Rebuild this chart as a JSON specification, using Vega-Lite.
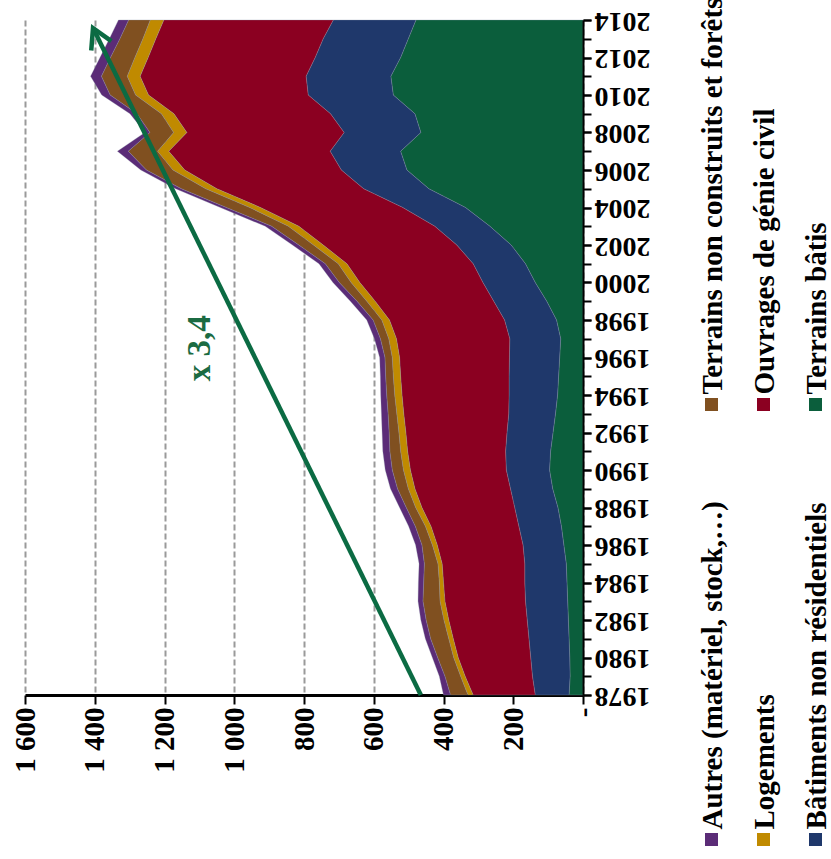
{
  "$schema": "https://vega.github.io/schema/vega-lite/v6.json",
  "width": 558,
  "height": 675,
  "autosize": {"type": "none"},
  "padding": {"left": 25, "top": 20, "right": 248, "bottom": 164},
  "background": "white",
  "config": {"view": {"stroke": null}, "axis": {"labelOverlap": false}},
  "resolve": {"axis": {"y": "independent"}},
  "datasets": {
    "stock": [
      {"annee":1978,"serie":"Terrains bâtis","valeur":40},{"annee":1978,"serie":"Bâtiments non résidentiels","valeur":97},{"annee":1978,"serie":"Ouvrages de génie civil","valeur":178},{"annee":1978,"serie":"Logements","valeur":15},{"annee":1978,"serie":"Terrains non construits et forêts","valeur":50},{"annee":1978,"serie":"Autres (matériel, stock,…)","valeur":20},
      {"annee":1979,"serie":"Terrains bâtis","valeur":37},{"annee":1979,"serie":"Bâtiments non résidentiels","valeur":108},{"annee":1979,"serie":"Ouvrages de génie civil","valeur":193},{"annee":1979,"serie":"Logements","valeur":13},{"annee":1979,"serie":"Terrains non construits et forêts","valeur":45},{"annee":1979,"serie":"Autres (matériel, stock,…)","valeur":16},
      {"annee":1980,"serie":"Terrains bâtis","valeur":38},{"annee":1980,"serie":"Bâtiments non résidentiels","valeur":112},{"annee":1980,"serie":"Ouvrages de génie civil","valeur":208},{"annee":1980,"serie":"Logements","valeur":13},{"annee":1980,"serie":"Terrains non construits et forêts","valeur":46},{"annee":1980,"serie":"Autres (matériel, stock,…)","valeur":15},
      {"annee":1981,"serie":"Terrains bâtis","valeur":40},{"annee":1981,"serie":"Bâtiments non résidentiels","valeur":115},{"annee":1981,"serie":"Ouvrages de génie civil","valeur":217},{"annee":1981,"serie":"Logements","valeur":13},{"annee":1981,"serie":"Terrains non construits et forêts","valeur":52},{"annee":1981,"serie":"Autres (matériel, stock,…)","valeur":15},
      {"annee":1982,"serie":"Terrains bâtis","valeur":42},{"annee":1982,"serie":"Bâtiments non résidentiels","valeur":118},{"annee":1982,"serie":"Ouvrages de génie civil","valeur":225},{"annee":1982,"serie":"Logements","valeur":14},{"annee":1982,"serie":"Terrains non construits et forêts","valeur":51},{"annee":1982,"serie":"Autres (matériel, stock,…)","valeur":15},
      {"annee":1983,"serie":"Terrains bâtis","valeur":44},{"annee":1983,"serie":"Bâtiments non résidentiels","valeur":121},{"annee":1983,"serie":"Ouvrages de génie civil","valeur":231},{"annee":1983,"serie":"Logements","valeur":14},{"annee":1983,"serie":"Terrains non construits et forêts","valeur":49},{"annee":1983,"serie":"Autres (matériel, stock,…)","valeur":14},
      {"annee":1984,"serie":"Terrains bâtis","valeur":46},{"annee":1984,"serie":"Bâtiments non résidentiels","valeur":121},{"annee":1984,"serie":"Ouvrages de génie civil","valeur":233},{"annee":1984,"serie":"Logements","valeur":12},{"annee":1984,"serie":"Terrains non construits et forêts","valeur":45},{"annee":1984,"serie":"Autres (matériel, stock,…)","valeur":15},
      {"annee":1985,"serie":"Terrains bâtis","valeur":48},{"annee":1985,"serie":"Bâtiments non résidentiels","valeur":119},{"annee":1985,"serie":"Ouvrages de génie civil","valeur":237},{"annee":1985,"serie":"Logements","valeur":12},{"annee":1985,"serie":"Terrains non construits et forêts","valeur":39},{"annee":1985,"serie":"Autres (matériel, stock,…)","valeur":15},
      {"annee":1986,"serie":"Terrains bâtis","valeur":55},{"annee":1986,"serie":"Bâtiments non résidentiels","valeur":117},{"annee":1986,"serie":"Ouvrages de génie civil","valeur":246},{"annee":1986,"serie":"Logements","valeur":14},{"annee":1986,"serie":"Terrains non construits et forêts","valeur":30},{"annee":1986,"serie":"Autres (matériel, stock,…)","valeur":18},
      {"annee":1987,"serie":"Terrains bâtis","valeur":62},{"annee":1987,"serie":"Bâtiments non résidentiels","valeur":122},{"annee":1987,"serie":"Ouvrages de génie civil","valeur":252},{"annee":1987,"serie":"Logements","valeur":16},{"annee":1987,"serie":"Terrains non construits et forêts","valeur":29},{"annee":1987,"serie":"Autres (matériel, stock,…)","valeur":19},
      {"annee":1988,"serie":"Terrains bâtis","valeur":72},{"annee":1988,"serie":"Bâtiments non résidentiels","valeur":124},{"annee":1988,"serie":"Ouvrages de génie civil","valeur":266},{"annee":1988,"serie":"Logements","valeur":18},{"annee":1988,"serie":"Terrains non construits et forêts","valeur":27},{"annee":1988,"serie":"Autres (matériel, stock,…)","valeur":19},
      {"annee":1989,"serie":"Terrains bâtis","valeur":87},{"annee":1989,"serie":"Bâtiments non résidentiels","valeur":121},{"annee":1989,"serie":"Ouvrages de génie civil","valeur":274},{"annee":1989,"serie":"Logements","valeur":19},{"annee":1989,"serie":"Terrains non construits et forêts","valeur":31},{"annee":1989,"serie":"Autres (matériel, stock,…)","valeur":20},
      {"annee":1990,"serie":"Terrains bâtis","valeur":96},{"annee":1990,"serie":"Bâtiments non résidentiels","valeur":124},{"annee":1990,"serie":"Ouvrages de génie civil","valeur":275},{"annee":1990,"serie":"Logements","valeur":20},{"annee":1990,"serie":"Terrains non construits et forêts","valeur":32},{"annee":1990,"serie":"Autres (matériel, stock,…)","valeur":20},
      {"annee":1991,"serie":"Terrains bâtis","valeur":93},{"annee":1991,"serie":"Bâtiments non résidentiels","valeur":129},{"annee":1991,"serie":"Ouvrages de génie civil","valeur":281},{"annee":1991,"serie":"Logements","valeur":20},{"annee":1991,"serie":"Terrains non construits et forêts","valeur":31},{"annee":1991,"serie":"Autres (matériel, stock,…)","valeur":20},
      {"annee":1992,"serie":"Terrains bâtis","valeur":86},{"annee":1992,"serie":"Bâtiments non résidentiels","valeur":132},{"annee":1992,"serie":"Ouvrages de génie civil","valeur":290},{"annee":1992,"serie":"Logements","valeur":20},{"annee":1992,"serie":"Terrains non construits et forêts","valeur":28},{"annee":1992,"serie":"Autres (matériel, stock,…)","valeur":20},
      {"annee":1993,"serie":"Terrains bâtis","valeur":79},{"annee":1993,"serie":"Bâtiments non résidentiels","valeur":134},{"annee":1993,"serie":"Ouvrages de génie civil","valeur":301},{"annee":1993,"serie":"Logements","valeur":20},{"annee":1993,"serie":"Terrains non construits et forêts","valeur":25},{"annee":1993,"serie":"Autres (matériel, stock,…)","valeur":19},
      {"annee":1994,"serie":"Terrains bâtis","valeur":73},{"annee":1994,"serie":"Bâtiments non résidentiels","valeur":139},{"annee":1994,"serie":"Ouvrages de génie civil","valeur":307},{"annee":1994,"serie":"Logements","valeur":21},{"annee":1994,"serie":"Terrains non construits et forêts","valeur":23},{"annee":1994,"serie":"Autres (matériel, stock,…)","valeur":17},
      {"annee":1995,"serie":"Terrains bâtis","valeur":70},{"annee":1995,"serie":"Bâtiments non résidentiels","valeur":142},{"annee":1995,"serie":"Ouvrages de génie civil","valeur":311},{"annee":1995,"serie":"Logements","valeur":21},{"annee":1995,"serie":"Terrains non construits et forêts","valeur":22},{"annee":1995,"serie":"Autres (matériel, stock,…)","valeur":15},
      {"annee":1996,"serie":"Terrains bâtis","valeur":67},{"annee":1996,"serie":"Bâtiments non résidentiels","valeur":144},{"annee":1996,"serie":"Ouvrages de génie civil","valeur":315},{"annee":1996,"serie":"Logements","valeur":21},{"annee":1996,"serie":"Terrains non construits et forêts","valeur":21},{"annee":1996,"serie":"Autres (matériel, stock,…)","valeur":15},
      {"annee":1997,"serie":"Terrains bâtis","valeur":64},{"annee":1997,"serie":"Bâtiments non résidentiels","valeur":146},{"annee":1997,"serie":"Ouvrages de génie civil","valeur":325},{"annee":1997,"serie":"Logements","valeur":22},{"annee":1997,"serie":"Terrains non construits et forêts","valeur":24},{"annee":1997,"serie":"Autres (matériel, stock,…)","valeur":17},
      {"annee":1998,"serie":"Terrains bâtis","valeur":76},{"annee":1998,"serie":"Bâtiments non résidentiels","valeur":149},{"annee":1998,"serie":"Ouvrages de génie civil","valeur":330},{"annee":1998,"serie":"Logements","valeur":22},{"annee":1998,"serie":"Terrains non construits et forêts","valeur":25},{"annee":1998,"serie":"Autres (matériel, stock,…)","valeur":18},
      {"annee":1999,"serie":"Terrains bâtis","valeur":104},{"annee":1999,"serie":"Bâtiments non résidentiels","valeur":152},{"annee":1999,"serie":"Ouvrages de génie civil","valeur":340},{"annee":1999,"serie":"Logements","valeur":24},{"annee":1999,"serie":"Terrains non construits et forêts","valeur":28},{"annee":1999,"serie":"Autres (matériel, stock,…)","valeur":19},
      {"annee":2000,"serie":"Terrains bâtis","valeur":137},{"annee":2000,"serie":"Bâtiments non résidentiels","valeur":150},{"annee":2000,"serie":"Ouvrages de génie civil","valeur":353},{"annee":2000,"serie":"Logements","valeur":25},{"annee":2000,"serie":"Terrains non construits et forêts","valeur":34},{"annee":2000,"serie":"Autres (matériel, stock,…)","valeur":18},
      {"annee":2001,"serie":"Terrains bâtis","valeur":165},{"annee":2001,"serie":"Bâtiments non résidentiels","valeur":150},{"annee":2001,"serie":"Ouvrages de génie civil","valeur":362},{"annee":2001,"serie":"Logements","valeur":25},{"annee":2001,"serie":"Terrains non construits et forêts","valeur":37},{"annee":2001,"serie":"Autres (matériel, stock,…)","valeur":18},
      {"annee":2002,"serie":"Terrains bâtis","valeur":206},{"annee":2002,"serie":"Bâtiments non résidentiels","valeur":156},{"annee":2002,"serie":"Ouvrages de génie civil","valeur":383},{"annee":2002,"serie":"Logements","valeur":28},{"annee":2002,"serie":"Terrains non construits et forêts","valeur":42},{"annee":2002,"serie":"Autres (matériel, stock,…)","valeur":18},
      {"annee":2003,"serie":"Terrains bâtis","valeur":267},{"annee":2003,"serie":"Bâtiments non résidentiels","valeur":158},{"annee":2003,"serie":"Ouvrages de génie civil","valeur":390},{"annee":2003,"serie":"Logements","valeur":30},{"annee":2003,"serie":"Terrains non construits et forêts","valeur":48},{"annee":2003,"serie":"Autres (matériel, stock,…)","valeur":18},
      {"annee":2004,"serie":"Terrains bâtis","valeur":337},{"annee":2004,"serie":"Bâtiments non résidentiels","valeur":180},{"annee":2004,"serie":"Ouvrages de génie civil","valeur":408},{"annee":2004,"serie":"Logements","valeur":31},{"annee":2004,"serie":"Terrains non construits et forêts","valeur":67},{"annee":2004,"serie":"Autres (matériel, stock,…)","valeur":17},
      {"annee":2005,"serie":"Terrains bâtis","valeur":442},{"annee":2005,"serie":"Bâtiments non résidentiels","valeur":187},{"annee":2005,"serie":"Ouvrages de génie civil","valeur":421},{"annee":2005,"serie":"Logements","valeur":32},{"annee":2005,"serie":"Terrains non construits et forêts","valeur":70},{"annee":2005,"serie":"Autres (matériel, stock,…)","valeur":16},
      {"annee":2006,"serie":"Terrains bâtis","valeur":505},{"annee":2006,"serie":"Bâtiments non résidentiels","valeur":188},{"annee":2006,"serie":"Ouvrages de génie civil","valeur":449},{"annee":2006,"serie":"Logements","valeur":34},{"annee":2006,"serie":"Terrains non construits et forêts","valeur":76},{"annee":2006,"serie":"Autres (matériel, stock,…)","valeur":16},
      {"annee":2007,"serie":"Terrains bâtis","valeur":523},{"annee":2007,"serie":"Bâtiments non résidentiels","valeur":202},{"annee":2007,"serie":"Ouvrages de génie civil","valeur":463},{"annee":2007,"serie":"Logements","valeur":32},{"annee":2007,"serie":"Terrains non construits et forêts","valeur":84},{"annee":2007,"serie":"Autres (matériel, stock,…)","valeur":31},
      {"annee":2008,"serie":"Terrains bâtis","valeur":465},{"annee":2008,"serie":"Bâtiments non résidentiels","valeur":220},{"annee":2008,"serie":"Ouvrages de génie civil","valeur":451},{"annee":2008,"serie":"Logements","valeur":38},{"annee":2008,"serie":"Terrains non construits et forêts","valeur":68},{"annee":2008,"serie":"Autres (matériel, stock,…)","valeur":14},
      {"annee":2009,"serie":"Terrains bâtis","valeur":482},{"annee":2009,"serie":"Bâtiments non résidentiels","valeur":242},{"annee":2009,"serie":"Ouvrages de génie civil","valeur":449},{"annee":2009,"serie":"Logements","valeur":36},{"annee":2009,"serie":"Terrains non construits et forêts","valeur":70},{"annee":2009,"serie":"Autres (matériel, stock,…)","valeur":20},
      {"annee":2010,"serie":"Terrains bâtis","valeur":544},{"annee":2010,"serie":"Bâtiments non résidentiels","valeur":244},{"annee":2010,"serie":"Ouvrages de génie civil","valeur":458},{"annee":2010,"serie":"Logements","valeur":37},{"annee":2010,"serie":"Terrains non construits et forêts","valeur":73},{"annee":2010,"serie":"Autres (matériel, stock,…)","valeur":24},
      {"annee":2011,"serie":"Terrains bâtis","valeur":551},{"annee":2011,"serie":"Bâtiments non résidentiels","valeur":243},{"annee":2011,"serie":"Ouvrages de génie civil","valeur":476},{"annee":2011,"serie":"Logements","valeur":37},{"annee":2011,"serie":"Terrains non construits et forêts","valeur":74},{"annee":2011,"serie":"Autres (matériel, stock,…)","valeur":31},
      {"annee":2012,"serie":"Terrains bâtis","valeur":523},{"annee":2012,"serie":"Bâtiments non résidentiels","valeur":245},{"annee":2012,"serie":"Ouvrages de génie civil","valeur":479},{"annee":2012,"serie":"Logements","valeur":38},{"annee":2012,"serie":"Terrains non construits et forêts","valeur":70},{"annee":2012,"serie":"Autres (matériel, stock,…)","valeur":30},
      {"annee":2013,"serie":"Terrains bâtis","valeur":501},{"annee":2013,"serie":"Bâtiments non résidentiels","valeur":244},{"annee":2013,"serie":"Ouvrages de génie civil","valeur":480},{"annee":2013,"serie":"Logements","valeur":37},{"annee":2013,"serie":"Terrains non construits et forêts","valeur":66},{"annee":2013,"serie":"Autres (matériel, stock,…)","valeur":30},
      {"annee":2014,"serie":"Terrains bâtis","valeur":479},{"annee":2014,"serie":"Bâtiments non résidentiels","valeur":237},{"annee":2014,"serie":"Ouvrages de génie civil","valeur":486},{"annee":2014,"serie":"Logements","valeur":39},{"annee":2014,"serie":"Terrains non construits et forêts","valeur":62},{"annee":2014,"serie":"Autres (matériel, stock,…)","valeur":29}
    ],
    "fleche": [{"annee": 1978, "valeur": 465}, {"annee": 2013.57, "valeur": 1405}],
    "note": [{"annee": 1996.5, "valeur": 1098, "texte": "x 3,4"}]
  },
  "layer": [
    {
      "data": {"name": "stock"},
      "transform": [
        {"calculate": "indexof(['Terrains bâtis','Bâtiments non résidentiels','Ouvrages de génie civil','Logements','Terrains non construits et forêts','Autres (matériel, stock,…)'], datum.serie)", "as": "rang"}
      ],
      "mark": {"type": "area", "orient": "horizontal", "stroke": "#8a93a8", "strokeWidth": 0.6, "strokeOpacity": 0.5},
      "encoding": {
        "y": {
          "field": "annee", "type": "quantitative",
          "scale": {"domain": [1978, 2014], "nice": false, "zero": false},
          "axis": {
            "orient": "right", "title": null, "zindex": 1,
            "values": [1978,1980,1982,1984,1986,1988,1990,1992,1994,1996,1998,2000,2002,2004,2006,2008,2010,2012,2014],
            "format": "d",
            "labelAngle": 180, "labelAlign": "right", "labelBaseline": "middle",
            "labelFont": "Liberation Serif", "labelFontWeight": "bold", "labelFontSize": 28, "labelColor": "black",
            "labelPadding": 3, "labelOverlap": false, "labelFlush": false, "labelBound": false,
            "tickSize": 8, "tickColor": "black", "tickWidth": 2,
            "domainColor": "black", "domainWidth": 2, "grid": false
          }
        },
        "x": {
          "field": "valeur", "type": "quantitative", "stack": "zero",
          "scale": {"domain": [0, 1600], "reverse": true, "nice": false},
          "axis": {
            "orient": "bottom", "title": null,
            "values": [0,200,400,600,800,1000,1200,1400,1600],
            "labelExpr": "datum.value == 0 ? '-\u00a0\u00a0\u00a0' : replace(format(datum.value, ','), ',', '\u00a0')",
            "labelAngle": 270, "labelAlign": "right", "labelBaseline": "middle",
            "labelFont": "Liberation Serif", "labelFontWeight": "bold", "labelFontSize": 29, "labelColor": "black",
            "labelPadding": 3, "labelOverlap": false, "labelFlush": false, "labelBound": false,
            "tickSize": 9, "tickColor": "black", "tickWidth": 2,
            "domainColor": "black", "domainWidth": 3,
            "grid": true, "gridColor": "#9a9a9a", "gridWidth": 2, "gridDash": [6, 3]
          }
        },
        "color": {
          "field": "serie", "type": "nominal",
          "scale": {
            "domain": ["Terrains non construits et forêts", "Autres (matériel, stock,…)", "Ouvrages de génie civil", "Logements", "Terrains bâtis", "Bâtiments non résidentiels"],
            "range": ["#805020", "#5B2C77", "#8B0021", "#C08A00", "#0B5E3C", "#1F386B"]
          },
          "legend": {
            "orient": "none", "legendX": 672, "legendY": 370,
            "direction": "vertical", "columns": 3, "title": null, "padding": 0,
            "symbolType": "square", "symbolSize": 169, "symbolStrokeWidth": 0, "symbolOpacity": 1,
            "labelFont": "Liberation Serif", "labelFontWeight": "bold", "labelFontSize": 29, "labelColor": "black",
            "labelLimit": 3000, "labelOffset": -13,
            "labelExpr": "datum.label == 'Ouvrages de génie civil' ? pad(datum.label, 39, '\u00a0') : datum.label == 'Terrains bâtis' ? pad(datum.label, 45, '\u00a0') : datum.label == 'Logements' ? pad(datum.label, 36, '\u00a0') : datum.label",
            "rowPadding": 90, "columnPadding": 21,
            "encoding": {"labels": {"angle": {"value": 270}, "dx": {"value": 10}}}
          }
        },
        "order": {"field": "rang", "type": "quantitative"}
      }
    },
    {
      "data": {"name": "fleche"},
      "mark": {"type": "line", "color": "#0B6B43", "strokeWidth": 4.5, "opacity": 1, "strokeOpacity": 1},
      "encoding": {
        "x": {"field": "valeur", "type": "quantitative"},
        "y": {
          "field": "annee", "type": "quantitative",
          "axis": {
            "orient": "right", "title": null, "zindex": 1,
            "values": [1978,1979,1980,1981,1982,1983,1984,1985,1986,1987,1988,1989,1990,1991,1992,1993,1994,1995,1996,1997,1998,1999,2000,2001,2002,2003,2004,2005,2006,2007,2008,2009,2010,2011,2012,2013,2014],
            "labels": false, "domain": false, "grid": false,
            "ticks": true, "tickSize": 8, "tickColor": "black", "tickWidth": 2
          }
        }
      }
    },
    {
      "data": {"name": "fleche"},
      "transform": [{"filter": "datum.annee > 2000"}],
      "mark": {"type": "point", "shape": "M -0.566 1 L 0 0 L 0.566 1", "size": 1537, "angle": 335, "filled": false, "stroke": "#0B6B43", "strokeWidth": 4.5, "opacity": 1, "strokeOpacity": 1},
      "encoding": {
        "x": {"field": "valeur", "type": "quantitative"},
        "y": {"field": "annee", "type": "quantitative", "axis": null}
      }
    },
    {
      "data": {"name": "note"},
      "mark": {"type": "text", "angle": 270, "font": "Liberation Serif", "fontWeight": "bold", "fontSize": 33, "color": "#1B6B42", "opacity": 1, "fillOpacity": 1, "align": "center", "baseline": "middle"},
      "encoding": {
        "x": {"field": "valeur", "type": "quantitative"},
        "y": {"field": "annee", "type": "quantitative", "axis": null},
        "text": {"field": "texte"}
      }
    }
  ]
}
